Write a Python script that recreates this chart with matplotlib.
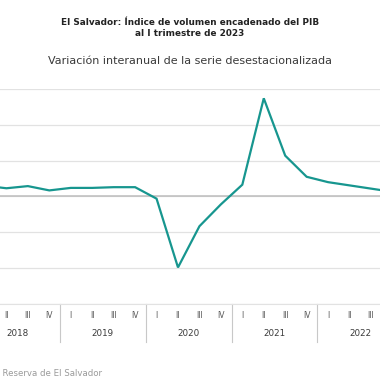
import matplotlib
matplotlib.use("Agg")
import matplotlib.pyplot as plt
import matplotlib.transforms as mtransforms

# --- datos: variación interanual (%) del PIB desestacionalizado ---
years = ["2018", "2019", "2020", "2021", "2022", "2023"]
quarters = ["I", "II", "III", "IV"]
variacion = [
    3.0, 2.3, 2.9, 1.7,      # 2018
    2.4, 2.4, 2.6, 2.6,      # 2019
    -0.6, -19.8, -8.3, -2.2, # 2020
    3.3, 27.4, 11.4, 5.5,    # 2021
    4.0, 3.1, 2.2, 1.3,      # 2022
    1.0,                     # 2023
]
y_ticks = [-30, -20, -10, 0, 10, 20, 30]

TEAL = "#17968f"
GRID = "#e2e2e2"
TEXT = "#3a3a3a"
X_MIN, X_MAX = 0.70, 18.42   # el gráfico original está recortado a los lados

plt.rcParams['font.family'] = ['DejaVu Sans']

fig = plt.figure(figsize=(3.8, 3.8), dpi=100)
ax = fig.add_axes([0.0, 0.2, 1.0, 0.5658])

idx = list(range(len(variacion)))
ax.plot(idx, variacion, color=TEAL, linewidth=1.6, solid_joinstyle='miter', zorder=3)

ax.set_yticks(y_ticks)
ax.set_xticks(idx)
ax.set_xticklabels([])
ax.set_ylim(-30, 30)
ax.yaxis.grid(True, color=GRID, linewidth=0.9)
ax.axhline(0, color="#bdbdbd", linewidth=1.1, zorder=2)
ax.tick_params(axis='y', length=0, labelleft=False)
ax.tick_params(axis='x', length=0)

for s in ['top', 'right', 'left']:
    ax.spines[s].set_visible(False)
ax.spines['bottom'].set_color(GRID)

# etiquetas de trimestres (solo las que caen dentro del recorte)
trans = mtransforms.blended_transform_factory(ax.transData, fig.transFigure)
for i in idx:
    if X_MIN - 0.3 < i < X_MAX + 0.2:
        ax.text(i, 1 - 315 / 380, quarters[i % 4], transform=trans, ha='center', va='center',
                fontsize=5.5, color="#555555", clip_on=False)

# etiquetas de años y separadores
for k, yr in enumerate(years):
    center = 4 * k + 1.5
    if X_MIN - 1 < center < X_MAX:
        ax.text(center, 1 - 333 / 380, yr, transform=trans, ha='center', va='center',
                fontsize=6.3, color=TEXT, clip_on=False)
    sep = 4 * k + 3.5
    if sep < X_MAX:
        ax.plot([sep, sep], [1 - 304 / 380, 1 - 342 / 380], transform=trans,
                color="#c8c8c8", linewidth=0.8, clip_on=False)
ax.set_xlim(X_MIN, X_MAX)

# títulos
fig.text(0.5, 1 - 22.7 / 380, "El Salvador: Índice de volumen encadenado del PIB",
         ha='center', va='center', fontsize=6.4, fontweight='bold', color="#222222")
fig.text(0.5, 1 - 33.3 / 380, "al I trimestre de 2023",
         ha='center', va='center', fontsize=6.4, fontweight='bold', color="#222222")
fig.text(0.5, 1 - 60.7 / 380, "Variación interanual de la serie desestacionalizada",
         ha='center', va='center', fontsize=8.0, color=TEXT)

# fuente
fig.text(102 / 380, 1 - 373 / 380, "Fuente: Banco Central de Reserva de El Salvador",
         ha='right', va='center', fontsize=6.2, color="#9a9a9a")

fig.savefig("out.png", dpi=100)
